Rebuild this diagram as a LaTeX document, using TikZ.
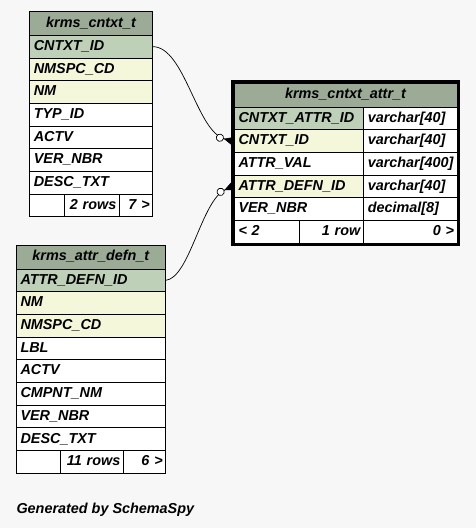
\documentclass[tikz,border=0pt]{standalone}
\usepackage{fontspec}
\setmainfont{Liberation Sans}
\usetikzlibrary{arrows.meta, positioning, fit}
\definecolor{hdrgreen}{HTML}{9BAB96}
\definecolor{pkgreen}{HTML}{BED1B8}
\definecolor{idxyellow}{HTML}{F4F7DA}
\definecolor{canvas}{HTML}{F7F7F7}

\begin{document}
\begin{tikzpicture}[
  x=1pt, y=-1pt,
  node distance=0pt,
  every node/.style={font=\fontsize{14.4}{16}\selectfont\bfseries\itshape, outer sep=0pt},
  hdr/.style={draw, line width=1pt, fill=hdrgreen, minimum width=#1, minimum height=24pt,
              inner sep=0pt, text height=10.5pt, text depth=3pt},
  col/.style={draw, line width=1pt, fill=white, text width=#1, minimum height=22.7pt,
              inner xsep=4.5pt, inner ysep=0pt, text height=10.5pt, text depth=3pt, align=left},
  foot/.style={col=#1, inner xsep=3pt, align=right},
  pk/.style={fill=pkgreen},
  idx/.style={fill=idxyellow},
  focus/.style={draw, line width=3pt, inner sep=1.5pt},
  fk/.style={-{Circle[length=8pt, fill=white] Triangle[reversed, length=9pt, width=8pt]}, line width=0.7pt}
]
\path[use as bounding box, fill=canvas] (0,0) rectangle (476,528);

\node[hdr=123.4pt, anchor=north west] (acntxt) at (29.3,11.3) {krms\_cntxt\_t};
\node[col=114.4pt, pk, below=of acntxt] (a1) {CNTXT\_ID};
\node[col=114.4pt, idx, below=of a1] (a2) {NMSPC\_CD};
\node[col=114.4pt, idx, below=of a2] (a3) {NM};
\node[col=114.4pt, below=of a3] (a4) {TYP\_ID};
\node[col=114.4pt, below=of a4] (a5) {ACTV};
\node[col=114.4pt, below=of a5] (a6) {VER\_NBR};
\node[col=114.4pt, below=of a6] (a7) {DESC\_TXT};
\node[col=26pt, below right=of a7.south west] (af1) {};
\node[foot=49pt, right=of af1] (af2) {2 rows};
\node[foot=27.4pt, right=of af2] (af3) {7 >};

\node[hdr=223pt, anchor=north west] (bcntxtattr) at (234,83) {krms\_cntxt\_attr\_t};
\node[col=120.3pt, pk, below right=of bcntxtattr.south west] (b1) {CNTXT\_ATTR\_ID};
\node[col=84.7pt, right=of b1] (b1t) {varchar[40]};
\node[col=120.3pt, idx, below=of b1] (b2) {CNTXT\_ID};
\node[col=84.7pt, right=of b2] (b2t) {varchar[40]};
\node[col=120.3pt, below=of b2] (b3) {ATTR\_VAL};
\node[col=84.7pt, right=of b3] (b3t) {varchar[400]};
\node[col=120.3pt, idx, below=of b3] (b4) {ATTR\_DEFN\_ID};
\node[col=84.7pt, right=of b4] (b4t) {varchar[40]};
\node[col=120.3pt, below=of b4] (b5) {VER\_NBR};
\node[col=84.7pt, right=of b5] (b5t) {decimal[8]};
\node[col=56.3pt, below right=of b5.south west] (bf1) {< 2};
\node[foot=58pt, right=of bf1] (bf2) {1 row};
\node[foot=87.7pt, right=of bf2] (bf3) {0 >};
\node[focus, fit=(bcntxtattr)(bf1)(bf3)] (bframe) {};

\node[hdr=149.7pt, anchor=north west] (cattrdefn) at (16,245) {krms\_attr\_defn\_t};
\node[col=140.7pt, pk, below=of cattrdefn] (c1) {ATTR\_DEFN\_ID};
\node[col=140.7pt, idx, below=of c1] (c2) {NM};
\node[col=140.7pt, idx, below=of c2] (c3) {NMSPC\_CD};
\node[col=140.7pt, below=of c3] (c4) {LBL};
\node[col=140.7pt, below=of c4] (c5) {ACTV};
\node[col=140.7pt, below=of c5] (c6) {CMPNT\_NM};
\node[col=140.7pt, below=of c6] (c7) {VER\_NBR};
\node[col=140.7pt, below=of c7] (c8) {DESC\_TXT};
\node[col=35.3pt, below right=of c8.south west] (cf1) {};
\node[foot=57pt, right=of cf1] (cf2) {11 rows};
\node[foot=36.4pt, right=of cf2] (cf3) {6 >};

\draw[fk] (a1.east) .. controls +(32,0) and +(-36,-9.5) .. (bframe.west |- b2.west);
\draw[fk] (c1.east) .. controls +(24,-2.5) and +(-31,14) .. (bframe.west |- b4.west);

\node[anchor=base west, inner sep=0pt] (credit) at (16.5,513) {Generated by SchemaSpy};
\end{tikzpicture}
\end{document}
